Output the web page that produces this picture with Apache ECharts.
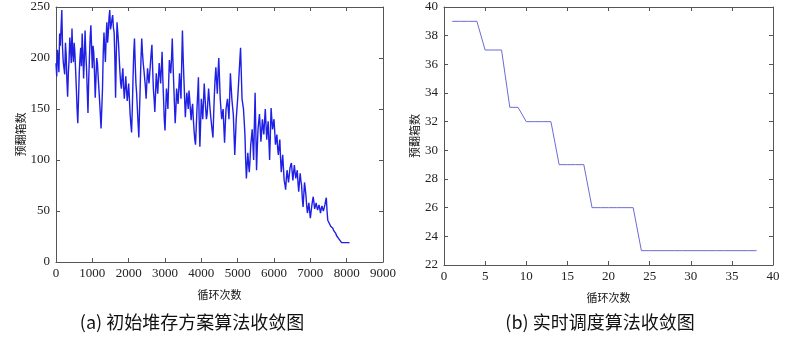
<!DOCTYPE html>
<html>
<head>
<meta charset="utf-8">
<script src="https://cdn.jsdelivr.net/npm/echarts@6/dist/echarts.min.js"></script>
<style>
  html, body { margin: 0; padding: 0; background: #fff; }
  #chart { width: 808px; height: 338px; }
</style>
</head>
<body>
<div id="chart"></div>
<script>
// (a) 初始堆存方案：每 20 次循环读一个预翻箱数
const iterStepA = 20;
const boxesA = [
  195, 182, 208, 200, 186, 224, 212, 230, 247, 210, 196, 190, 184, 215, 203, 178, 162, 185, 198, 220,
  210, 195, 229, 205, 196, 215, 205, 188, 170, 150, 136, 160, 185, 200, 210, 192, 224, 205, 180, 200,
  227, 205, 190, 168, 146, 178, 200, 220, 232, 210, 190, 212, 205, 185, 161, 180, 200, 195, 182, 170,
  158, 145, 131, 150, 170, 205, 225, 210, 196, 220, 235, 215, 225, 240, 247, 228, 232, 238, 242, 230,
  225, 200, 161, 205, 235, 225, 215, 200, 186, 175, 170, 182, 190, 172, 160, 170, 182, 170, 158, 165,
  175, 160, 145, 135, 127, 150, 180, 205, 219, 195, 175, 165, 150, 135, 122, 150, 175, 200, 219, 205,
  195, 188, 180, 172, 160, 175, 190, 182, 175, 185, 195, 205, 213, 190, 170, 160, 147, 165, 185, 175,
  165, 180, 195, 185, 175, 190, 206, 180, 160, 140, 129, 150, 170, 162, 150, 175, 198, 190, 185, 200,
  219, 195, 175, 155, 136, 150, 170, 162, 155, 170, 185, 172, 160, 195, 227, 200, 180, 160, 142, 155,
  166, 158, 150, 168, 160, 148, 139, 150, 155, 140, 129, 120, 115, 132, 150, 165, 181, 140, 113, 135,
  160, 150, 140, 158, 175, 162, 150, 140, 145, 158, 170, 160, 150, 142, 135, 128, 122, 145, 165, 180,
  191, 178, 165, 185, 200, 180, 160, 150, 140, 146, 150, 132, 117, 135, 150, 155, 160, 150, 140, 162,
  185, 172, 160, 152, 145, 125, 105, 122, 140, 150, 160, 172, 185, 198, 210, 185, 160, 155, 150, 138,
  125, 100, 82, 95, 107, 96, 88, 100, 115, 122, 130, 115, 100, 135, 166, 128, 90, 112, 130, 138,
  145, 132, 118, 128, 140, 132, 125, 138, 150, 135, 120, 130, 138, 118, 100, 125, 151, 140, 130, 135,
  140, 128, 115, 120, 125, 112, 105, 113, 120, 102, 88, 97, 105, 92, 80, 76, 71, 82, 90, 84,
  78, 85, 92, 95, 97, 88, 80, 88, 95, 88, 82, 86, 90, 78, 69, 78, 87, 80, 75, 62,
  54, 66, 78, 72, 65, 55, 48, 53, 58, 50, 43, 49, 55, 60, 64, 58, 52, 55, 58, 54,
  51, 54, 56, 52, 48, 52, 55, 52, 50, 53, 56, 60, 63, 50, 41, 40, 38, 37, 35, 36,
  36, 33, 31, 31, 30, 28, 26, 26, 25, 23, 22, 21, 20, 19, 19, 19, 19, 19, 19, 19,
  19, 19, 19, 19, 19
];

// (b) 实时调度算法：循环次数 1..38
const iterB = [1, 2, 3, 4, 5, 6, 7, 8, 9, 10, 11, 12, 13, 14, 15, 16, 17, 18, 19, 20,
  21, 22, 23, 24, 25, 26, 27, 28, 29, 30, 31, 32, 33, 34, 35, 36, 37, 38];
const boxesB = [39, 39, 39, 39, 37, 37, 37, 33, 33, 32, 32, 32, 32, 29, 29, 29, 29, 26, 26, 26,
  26, 26, 26, 23, 23, 23, 23, 23, 23, 23, 23, 23, 23, 23, 23, 23, 23, 23];

const seriesA = boxesA.map((v, i) => [i * iterStepA, v]);
const seriesB = iterB.map((x, i) => [x, boxesB[i]]);

const SERIF = 'Liberation Serif';
const CJK = 'Noto Sans CJK SC';
const FRAME = '#555';

// MATLAB 风格：四边都有朝内的刻度，只有左/下带标签
function xAxes(gi, max, interval) {
  const base = {
    gridIndex: gi, type: 'value', min: 0, max, interval,
    axisLine: { show: true, onZero: false, lineStyle: { color: FRAME } },
    axisTick: { show: true, inside: true, length: 4, lineStyle: { color: FRAME } },
    splitLine: { show: false },
  };
  return [
    { ...base, position: 'bottom', name: '循环次数', nameLocation: 'middle', nameGap: 27,
      nameTextStyle: { fontFamily: CJK, fontSize: 11, color: '#111' },
      axisLabel: { fontFamily: SERIF, fontSize: 13, color: '#222', margin: 5,
        formatter: v => String(v) } },
    { ...base, position: 'top', axisLabel: { show: false } },
  ];
}

function yAxes(gi, min, max, interval, nameGap) {
  const base = {
    gridIndex: gi, type: 'value', min, max, interval,
    axisLine: { show: true, onZero: false, lineStyle: { color: FRAME } },
    axisTick: { show: true, inside: true, length: 4, lineStyle: { color: FRAME } },
    splitLine: { show: false },
  };
  return [
    { ...base, position: 'left', name: '预翻箱数', nameLocation: 'middle', nameGap,
      nameRotate: 90,
      nameTextStyle: { fontFamily: CJK, fontSize: 11, color: '#111' },
      axisLabel: { fontFamily: SERIF, fontSize: 13, color: '#222', margin: 6,
        formatter: v => String(v) } },
    { ...base, position: 'right', axisLabel: { show: false } },
  ];
}

const chart = echarts.init(document.getElementById('chart'), null, { renderer: 'canvas' });

chart.setOption({
  backgroundColor: '#fff',
  animation: false,
  textStyle: { fontFamily: SERIF },
  grid: [
    { left: 56, top: 7, width: 327, height: 255 },
    { left: 444, top: 7, width: 329, height: 258 },
  ],
  xAxis: [...xAxes(0, 9000, 1000), ...xAxes(1, 40, 5)],
  yAxis: [...yAxes(0, 0, 250, 50, 30), ...yAxes(1, 22, 40, 2, 24)],
  series: [
    {
      type: 'line', xAxisIndex: 0, yAxisIndex: 0, data: seriesA,
      symbol: 'none', lineStyle: { color: '#1f1fe6', width: 1.4 },
    },
    {
      type: 'line', xAxisIndex: 2, yAxisIndex: 2, data: seriesB,
      symbol: 'none', lineStyle: { color: '#6b6bd6', width: 1 },
    },
  ],
  graphic: [
    caption('(a) 初始堆存方案算法收敛图', 192),
    caption('(b) 实时调度算法收敛图', 600),
  ],
});

function caption(text, x) {
  return {
    type: 'text', x, y: 322, silent: true,
    style: {
      text, fill: '#111', font: '18px "Noto Sans CJK SC", sans-serif',
      textAlign: 'center', textVerticalAlign: 'middle',
    },
  };
}
</script>
</body>
</html>
